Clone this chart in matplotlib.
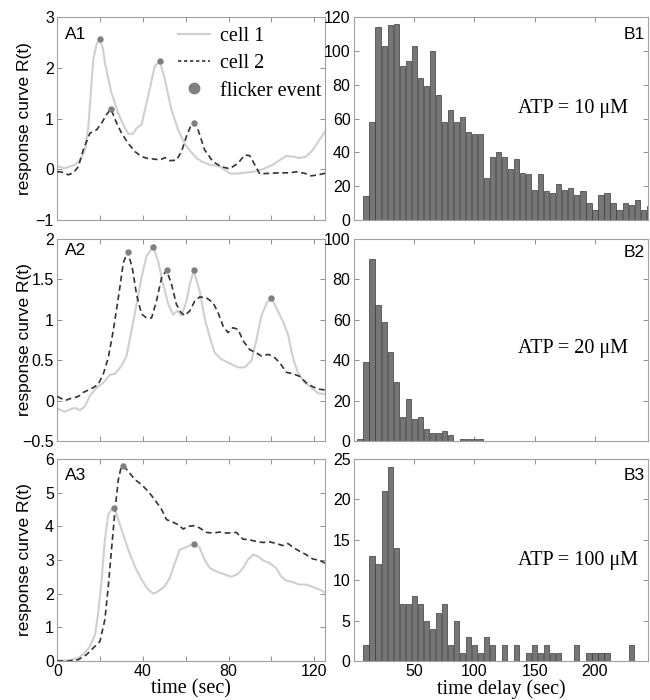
import numpy as np
import matplotlib
matplotlib.use("Agg")
import matplotlib.pyplot as plt
from matplotlib.lines import Line2D

# ---- A panels: response curves (time in sec, R(t)) ----
a1_t1 = [0, 0.8, 3.6, 8.2, 10.6, 12.9, 14.5, 16.8, 18.4, 19.9, 21.3, 22.2, 25.3, 28.4, 30.8,
         33.1, 35.4, 37.0, 39.3, 42.4, 45.5, 47.9, 50.2, 53.3, 56.4, 59.5, 62.0, 65.0, 67.5,
         71.2, 76.2, 80.5, 82.8, 86.7, 91.4, 96.0, 100.7, 103.8, 106.9, 110.0, 113.1, 116.2,
         119.3, 122.4, 125]
a1_r1 = [0.06, 0.05, 0.02, 0.09, 0.18, 0.38, 0.85, 2.17, 2.47, 2.56, 2.38, 2.10, 1.50, 1.11, 0.88,
         0.70, 0.70, 0.81, 0.88, 1.44, 2.03, 2.13, 1.77, 1.17, 0.78, 0.50, 0.36, 0.22, 0.15,
         0.09, 0.05, -0.08, -0.09, -0.07, -0.05, 0.0, 0.09, 0.18, 0.26, 0.25, 0.22, 0.25,
         0.38, 0.58, 0.74]
a1_t2 = [0, 0.8, 2.8, 5.1, 7.5, 9.8, 12.1, 15.2, 18.4, 20.7, 23.0, 25.0, 27.7, 30.0, 33.1,
         36.2, 39.3, 42.4, 45.5, 47.9, 50.2, 52.5, 55.6, 58.0, 60.3, 62.6, 63.8, 65.7, 68.8, 72.7,
         76.6, 80.5, 84.4, 87.5, 89.8, 92.2, 94.5, 99.1, 103.8, 108.5, 111.6, 115.5, 118.6, 121.7, 125]
a1_r2 = [-0.05, -0.05, -0.06, -0.11, -0.07, 0.05, 0.38, 0.71, 0.78, 0.91, 1.08, 1.19, 0.91, 0.71, 0.51,
         0.35, 0.25, 0.21, 0.20, 0.18, 0.23, 0.17, 0.18, 0.35, 0.65, 0.88, 0.92, 0.78, 0.38, 0.15,
         0.05, 0.01, 0.12, 0.28, 0.27, 0.09, -0.09, -0.08, -0.07, -0.07, -0.05, -0.08, -0.13, -0.11, -0.08]
a1_ev_t = [19.9, 47.9, 25.0, 63.8]
a1_ev_r = [2.56, 2.13, 1.19, 0.92]

a2_t1 = [0, 0.8, 3.6, 5.9, 8.2, 10.6, 12.9, 15.2, 18.4, 21.5, 24.6, 26.9, 30.0, 32.3, 34.6,
         37.0, 39.3, 41.7, 44.8, 47.1, 49.4, 51.8, 54.1, 56.1, 58.0, 60.3, 62.0, 63.7, 66.5, 68.8,
         71.2, 73.5, 76.6, 80.5, 84.4, 87.5, 90.6, 92.9, 95.3, 97.9, 99.9, 102.2, 105.3, 107.7,
         110.0, 112.3, 115.5, 118.6, 121.7, 125]
a2_r1 = [-0.10, -0.11, -0.14, -0.11, -0.09, -0.12, -0.07, 0.06, 0.16, 0.22, 0.32, 0.33, 0.43, 0.55, 0.86,
         1.19, 1.52, 1.79, 1.90, 1.72, 1.44, 1.19, 1.06, 1.11, 1.05, 1.23, 1.45, 1.61, 1.35, 1.02,
         0.78, 0.59, 0.51, 0.46, 0.41, 0.41, 0.49, 0.74, 1.05, 1.21, 1.27, 1.15, 0.98, 0.82,
         0.53, 0.35, 0.22, 0.16, 0.09, 0.08]
a2_t2 = [0, 0.8, 3.6, 6.7, 9.8, 12.1, 14.5, 16.8, 19.1, 21.5, 23.8, 26.1, 28.5, 30.8, 32.8,
         35.0, 37.0, 39.3, 41.7, 44.0, 46.3, 48.7, 51.0, 53.3, 55.6, 57.7, 59.5, 61.9, 64.2, 66.5,
         69.6, 72.7, 75.0, 77.4, 79.7, 82.0, 84.4, 86.7, 89.8, 92.9, 95.3, 98.3, 100.7, 103.8, 106.9,
         110.0, 113.1, 116.2, 119.3, 122.4, 125]
a2_r2 = [0.05, 0.04, 0.0, 0.03, 0.05, 0.10, 0.13, 0.16, 0.20, 0.33, 0.53, 0.86, 1.27, 1.70, 1.84,
         1.64, 1.31, 1.07, 1.02, 1.02, 1.23, 1.52, 1.61, 1.44, 1.19, 1.09, 1.05, 1.11, 1.23, 1.28,
         1.27, 1.21, 1.09, 0.92, 0.84, 0.90, 0.88, 0.74, 0.63, 0.59, 0.55, 0.57, 0.55, 0.47, 0.35,
         0.33, 0.30, 0.22, 0.17, 0.14, 0.13]
a2_ev_t = [32.8, 44.8, 51.0, 63.7, 99.9]
a2_ev_r = [1.84, 1.90, 1.61, 1.61, 1.27]

a3_t1 = [0, 0.8, 5.1, 9.8, 12.9, 15.2, 17.6, 19.1, 20.7, 22.2, 23.8, 25.3, 26.6, 27.7, 30.0,
         33.1, 36.2, 39.3, 42.4, 44.8, 47.1, 50.2, 52.5, 54.9, 57.2, 59.5, 61.9, 64.0, 66.5, 68.8,
         71.2, 74.3, 77.4, 81.3, 84.4, 86.7, 89.0, 91.4, 93.7, 96.0, 99.1, 102.2, 104.5, 106.9, 110.0,
         113.1, 116.2, 119.3, 122.4, 125]
a3_r1 = [0.02, 0.02, 0.02, 0.09, 0.24, 0.44, 0.78, 1.43, 2.42, 3.60, 4.35, 4.50, 4.54, 4.35, 3.90,
         3.31, 2.81, 2.42, 2.12, 2.00, 2.07, 2.22, 2.47, 2.91, 3.31, 3.36, 3.43, 3.49, 3.36, 3.01,
         2.76, 2.66, 2.59, 2.50, 2.59, 2.76, 3.01, 3.16, 3.11, 2.99, 2.91, 2.76, 2.51, 2.39, 2.34,
         2.27, 2.27, 2.20, 2.12, 2.04]
a3_t2 = [0, 0.8, 5.1, 9.8, 13.7, 16.8, 19.9, 22.2, 23.8, 25.3, 26.9, 28.5, 29.7, 30.9, 33.1,
         36.2, 39.3, 42.4, 45.5, 48.7, 51.0, 54.1, 56.4, 58.8, 61.1, 64.2, 66.5, 69.6, 72.7, 75.8,
         78.9, 83.6, 86.7, 89.8, 92.9, 96.0, 99.1, 102.2, 105.3, 107.7, 110.0, 113.1, 116.2, 119.3, 122.4,
         125]
a3_r2 = [0.0, 0.0, 0.0, 0.04, 0.19, 0.39, 0.58, 1.23, 2.22, 3.31, 4.45, 5.39, 5.73, 5.80, 5.63,
         5.39, 5.24, 5.04, 4.79, 4.50, 4.20, 4.12, 4.05, 3.92, 4.00, 4.02, 3.95, 3.82, 3.80, 3.83,
         3.80, 3.82, 3.62, 3.60, 3.55, 3.52, 3.54, 3.49, 3.43, 3.49, 3.38, 3.26, 3.16, 3.03, 2.99,
         2.91]
a3_ev_t = [26.6, 30.9, 64.0]
a3_ev_r = [4.54, 5.80, 3.49]

# ---- B panels: histograms of time delay, 5 sec bins ----
bin_width = 5
b1_first = 10
b1_counts = [14, 58, 114, 103, 115, 116, 91, 94, 103, 84, 79, 100, 74, 58, 65, 58, 61, 52, 51, 51,
             25, 37, 40, 37, 30, 36, 28, 27, 18, 27, 17, 16, 21, 18, 19, 15, 17, 10, 6, 15,
             16, 10, 6, 10, 9, 12, 6, 8]
b2_first = 5
b2_counts = [1, 39, 90, 67, 59, 44, 29, 12, 21, 11, 12, 6, 4, 4, 5, 3, 0, 1, 1, 1, 1]
b3_first = 10
b3_counts = [2, 13, 12, 21, 24, 14, 7, 7, 8, 7, 5, 4, 6, 7, 2, 5, 1, 3, 2, 1, 3, 2,
             0, 2, 0, 2, 0, 1, 2, 1, 2, 1, 1, 0, 0, 2, 0, 1, 1, 1, 1, 0, 0, 0, 2]

atp_labels = ["ATP = 10 \u03bcM", "ATP = 20 \u03bcM", "ATP = 100 \u03bcM"]

SERIF = "Liberation Serif"
plt.rcParams["font.family"] = "Liberation Sans"
plt.rcParams["axes.unicode_minus"] = True

fig = plt.figure(figsize=(6.5, 7), dpi=100)

rows = [(0.6857, 0.290), (0.370, 0.289), (0.0557, 0.2886)]
axA = [fig.add_axes([0.0882, b, 0.4118, h]) for b, h in rows]
axB = [fig.add_axes([0.5446, b, 0.4523, h]) for b, h in rows]


def style(ax):
    for s in ax.spines.values():
        s.set_color("#a0a0a0")
        s.set_linewidth(0.8)
    ax.tick_params(direction="in", top=True, right=True, length=3.5, width=0.7,
                   color="#909090", labelsize=11.5, pad=2.5)


curves = [(a1_t1, a1_r1, a1_t2, a1_r2, a1_ev_t, a1_ev_r),
          (a2_t1, a2_r1, a2_t2, a2_r2, a2_ev_t, a2_ev_r),
          (a3_t1, a3_r1, a3_t2, a3_r2, a3_ev_t, a3_ev_r)]
ylims = [(-1, 3), (-0.5, 2), (0, 6)]
yticks = [[-1, 0, 1, 2, 3], [-0.5, 0, 0.5, 1, 1.5, 2], [0, 1, 2, 3, 4, 5, 6]]
ylabs = [["\u22121", "0", "1", "2", "3"], ["\u22120.5", "0", "0.5", "1", "1.5", "2"],
         ["0", "1", "2", "3", "4", "5", "6"]]
a_names = ["A1", "A2", "A3"]
a_name_y = [0.916, 0.943, 0.92]

for i, ax in enumerate(axA):
    t1, r1, t2, r2, et, er = curves[i]
    ax.plot(t1, r1, color="#cfcfcf", lw=1.5, zorder=2)
    ax.plot(t2, r2, color="#333333", lw=1.2, ls=(0, (3.5, 2.2)), zorder=3)
    ax.plot(et, er, "o", color="#7f7f7f", ms=3.6, zorder=4)
    ax.set_xlim(0, 125)
    ax.set_ylim(*ylims[i])
    ax.set_xticks([0, 20, 40, 60, 80, 100, 120])
    if i == 2:
        ax.set_xticklabels(["0", "", "40", "", "80", "", "120"])
        ax.set_xlabel("time (sec)", family=SERIF, fontsize=14.5, labelpad=-0.5)
    else:
        ax.set_xticklabels([])
    ax.set_yticks(yticks[i])
    ax.set_yticklabels(ylabs[i])
    ax.set_ylabel("response curve R(t)", fontsize=12.5)
    ax.yaxis.set_label_coords(-0.095, 0.5)
    ax.text(0.029, a_name_y[i], a_names[i], transform=ax.transAxes, fontsize=12.5,
            ha="left", va="center")
    style(ax)

handles = [Line2D([], [], color="#cfcfcf", lw=1.5),
           Line2D([], [], color="#333333", lw=1.2, ls=(0, (2, 1.6))),
           Line2D([], [], ls="none", marker="o", color="#7f7f7f", ms=7.5)]
axA[0].legend(handles, ["cell 1", "cell 2", "flicker event"], loc="upper right",
              bbox_to_anchor=(1.01, 0.98), frameon=False, prop={"family": SERIF, "size": 14.5},
              handlelength=1.6, handletextpad=0.5, labelspacing=0.4, borderpad=0.3,
              borderaxespad=0.0)

hists = [(b1_first, b1_counts), (b2_first, b2_counts), (b3_first, b3_counts)]
b_ylims = [(0, 120), (0, 100), (0, 25)]
b_yticks = [range(0, 121, 20), range(0, 101, 20), range(0, 26, 5)]
b_names = ["B1", "B2", "B3"]
b_name_y = [0.914, 0.93, 0.92]
atp_pos = [(0.745, 0.547), (0.745, 0.455), (0.762, 0.497)]

for i, ax in enumerate(axB):
    first, counts = hists[i]
    centers = first + bin_width * np.arange(len(counts))
    ax.bar(centers, counts, width=4.3, color="#767676", edgecolor="#3a3a3a", lw=0.5, zorder=2)
    ax.set_xlim(0, 244)
    ax.set_ylim(*b_ylims[i])
    ax.set_yticks(list(b_yticks[i]))
    ax.set_xticks([50, 100, 150, 200])
    if i == 2:
        ax.set_xlabel("time delay (sec)", family=SERIF, fontsize=14.5, labelpad=-0.5)
    else:
        ax.set_xticklabels([])
    ax.text(0.99, b_name_y[i], b_names[i], transform=ax.transAxes, fontsize=12.5,
            ha="right", va="center")
    ax.text(atp_pos[i][0], atp_pos[i][1], atp_labels[i], transform=ax.transAxes,
            family=SERIF, fontsize=14.5, ha="center", va="center")
    style(ax)

fig.savefig("out.png", dpi=100)
